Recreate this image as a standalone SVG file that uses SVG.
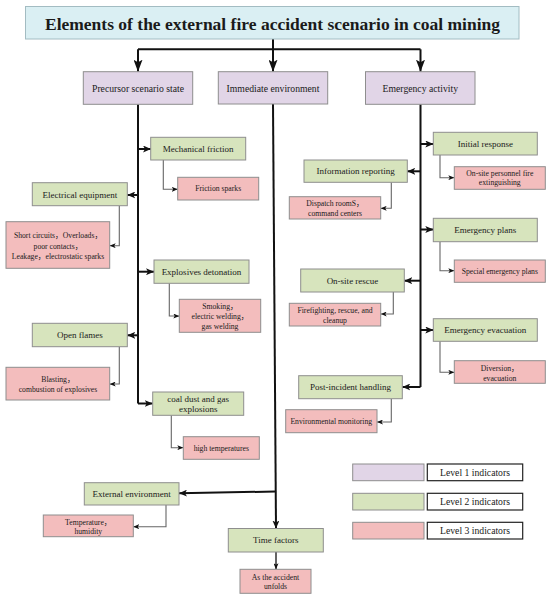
<svg xmlns="http://www.w3.org/2000/svg" width="550" height="599" viewBox="0 0 550 599">
<defs>
<style>
rect.l0{fill:#daeff3;stroke:#a3bcc2;stroke-width:1}
rect.l1{fill:#e1d5e7;stroke:#8e8e8e;stroke-width:1}
rect.l2{fill:#d7e4bd;stroke:#8e8e8e;stroke-width:1}
rect.l3{fill:#f3bdbd;stroke:#8e8e8e;stroke-width:1}
rect.lb{fill:#ffffff;stroke:#222222;stroke-width:1.2}
text{font-family:"Liberation Serif","Noto Sans CJK SC",serif;fill:#1a1a1a;text-anchor:middle}
.t0{font-size:17.5px;font-weight:bold}
.t1{font-size:9.7px}
.t2{font-size:9px}
.t3{font-size:7.7px}
.tl{font-size:9.7px}
.m{fill:none;stroke:#111111;stroke-width:2}
.mt{fill:none;stroke:#111111;stroke-width:1.3}
.s{fill:none;stroke:#666666;stroke-width:1.1}
</style>
<marker id="aL" markerUnits="userSpaceOnUse" viewBox="0 0 12 9" markerWidth="12" markerHeight="9" refX="12" refY="4.5" orient="auto"><path d="M0,0 L12,4.5 L0,9 L2.5,4.5 z" fill="#111111"/></marker>
<marker id="aM" markerUnits="userSpaceOnUse" viewBox="0 0 8 7" markerWidth="8" markerHeight="7" refX="8" refY="3.5" orient="auto"><path d="M0,0 L8,3.5 L0,7 L2,3.5 z" fill="#111111"/></marker>
<marker id="aS" markerUnits="userSpaceOnUse" viewBox="0 0 6 5" markerWidth="6" markerHeight="5" refX="6" refY="2.5" orient="auto"><path d="M0,0 L6,2.5 L0,5 L1.5,2.5 z" fill="#111111"/></marker>
</defs>
<rect x="0" y="0" width="550" height="599" fill="#ffffff"/>

<g id="connectors">
<path class="m" d="M273,38.5 V71.7" marker-end="url(#aL)"/>
<path class="m" d="M138,49.3 H420.5"/>
<path class="m" d="M138,49.3 V71.7" marker-end="url(#aL)"/>
<path class="m" d="M420.5,49.3 V71.7" marker-end="url(#aL)"/>
<path class="m" d="M138,104.3 V403.5"/>
<path class="m" d="M420.5,104.3 V387"/>
<path class="m" d="M273,104 L276,528.5" marker-end="url(#aM)"/>
<path class="m" d="M138,149 H151" marker-end="url(#aM)"/>
<path class="m" d="M138,195 H127.3" marker-end="url(#aM)"/>
<path class="m" d="M138,271.7 H154" marker-end="url(#aM)"/>
<path class="m" d="M138,335.3 H127.3" marker-end="url(#aM)"/>
<path class="m" d="M138,403.5 H152.7" marker-end="url(#aM)"/>
<path class="m" d="M420.5,144 H433.3" marker-end="url(#aM)"/>
<path class="m" d="M420.5,171.3 H407.3" marker-end="url(#aM)"/>
<path class="m" d="M420.5,229.5 H433.3" marker-end="url(#aM)"/>
<path class="m" d="M420.5,280.7 H404.3" marker-end="url(#aM)"/>
<path class="m" d="M420.5,330 H433.3" marker-end="url(#aM)"/>
<path class="m" d="M420.5,387 H402.3" marker-end="url(#aM)"/>
<path class="m" d="M275.5,491.5 L179,493.3" marker-end="url(#aM)"/>
<path class="mt" d="M276,552 V569.3" marker-end="url(#aS)"/>
<path class="s" d="M163.3,160 V189.3 H177.7" marker-end="url(#aS)"/>
<path class="s" d="M119.3,205.7 V245.7 H109.7" marker-end="url(#aS)"/>
<path class="s" d="M169.3,283.3 V316 H179.3" marker-end="url(#aS)"/>
<path class="s" d="M119.3,346.7 V384 H109.7" marker-end="url(#aS)"/>
<path class="s" d="M171.3,415.3 V447.7 H183.3" marker-end="url(#aS)"/>
<path class="s" d="M440,155 V177.7 H454.3" marker-end="url(#aS)"/>
<path class="s" d="M391.3,182.3 V208.3 H380.7" marker-end="url(#aS)"/>
<path class="s" d="M440,241.7 V270.7 H454.3" marker-end="url(#aS)"/>
<path class="s" d="M393.3,292 V314 H380.7" marker-end="url(#aS)"/>
<path class="s" d="M440,341.3 V372.3 H454.3" marker-end="url(#aS)"/>
<path class="s" d="M391.3,398.7 V422 H377" marker-end="url(#aS)"/>
<path class="s" d="M166,505 V526.7 H133.3" marker-end="url(#aS)"/>
</g>

<g id="title">
<rect class="l0" x="25.5" y="6.5" width="493.5" height="32.5"/>
<text class="t0" x="272.5" y="29.5">Elements of the external fire accident scenario in coal mining</text>
</g>

<g id="precursor">
<rect class="l1" x="83.3" y="71.7" width="109.4" height="32.6"/>
<text class="t1" x="138" y="91.6">Precursor scenario state</text>
</g>
<g id="immediate">
<rect class="l1" x="218.3" y="71.7" width="109.4" height="32.3"/>
<text class="t1" x="273" y="91.5">Immediate environment</text>
</g>
<g id="emergency">
<rect class="l1" x="365.5" y="71.7" width="109.5" height="32.6"/>
<text class="t1" x="420.3" y="91.6">Emergency activity</text>
</g>

<g id="mechanical-friction">
<rect class="l2" x="150.7" y="137.3" width="95" height="22.7"/>
<text class="t2" x="198.2" y="152">Mechanical friction</text>
</g>
<g id="friction-sparks">
<rect class="l3" x="177.7" y="177.3" width="81" height="22.7"/>
<text class="t3" x="218.2" y="191.3">Friction sparks</text>
</g>
<g id="electrical-equipment">
<rect class="l2" x="32.3" y="182.7" width="95" height="23"/>
<text class="t2" x="79.8" y="197.5">Electrical equipment</text>
</g>
<g id="short-circuits">
<rect class="l3" x="6" y="221.7" width="103.7" height="46.6"/>
<text class="t3" x="58" y="238.3">Short circuits，Overloads，</text>
<text class="t3" x="58" y="248.5">poor contacts，</text>
<text class="t3" x="58" y="258.7">Leakage，electrostatic sparks</text>
</g>
<g id="explosives-detonation">
<rect class="l2" x="154" y="260" width="95" height="23.3"/>
<text class="t2" x="201.5" y="274.7">Explosives detonation</text>
</g>
<g id="smoking">
<rect class="l3" x="179.3" y="299.3" width="81.4" height="33"/>
<text class="t3" x="220" y="309.3">Smoking，</text>
<text class="t3" x="220" y="319.3">electric welding，</text>
<text class="t3" x="220" y="329.3">gas welding</text>
</g>
<g id="open-flames">
<rect class="l2" x="32.3" y="323.3" width="95" height="23.4"/>
<text class="t2" x="79.8" y="338.3">Open flames</text>
</g>
<g id="blasting">
<rect class="l3" x="6" y="367.3" width="103.7" height="32.7"/>
<text class="t3" x="58" y="381.8">Blasting，</text>
<text class="t3" x="58" y="391.8">combustion of explosives</text>
</g>
<g id="coal-dust">
<rect class="l2" x="152.7" y="392" width="91" height="23.3"/>
<text class="t2" x="198.2" y="402.3">coal dust and gas</text>
<text class="t2" x="198.2" y="412.3">explosions</text>
</g>
<g id="high-temperatures">
<rect class="l3" x="183.3" y="436.7" width="76" height="22.6"/>
<text class="t3" x="221.3" y="450.7">high temperatures</text>
</g>

<g id="initial-response">
<rect class="l2" x="433.3" y="132.3" width="104" height="22.7"/>
<text class="t2" x="485.3" y="147">Initial response</text>
</g>
<g id="on-site-personnel">
<rect class="l3" x="454.3" y="166.7" width="91" height="22.6"/>
<text class="t3" x="499.8" y="175.9">On-site personnel fire</text>
<text class="t3" x="499.8" y="185.3">extinguishing</text>
</g>
<g id="information-reporting">
<rect class="l2" x="304" y="160" width="103.3" height="22.3"/>
<text class="t2" x="355.6" y="174.3">Information reporting</text>
</g>
<g id="dispatch">
<rect class="l3" x="289.3" y="196.7" width="91.4" height="22.3"/>
<text class="t3" x="335" y="205.9">Dispatch roomS，</text>
<text class="t3" x="335" y="215.9">command centers</text>
</g>
<g id="emergency-plans">
<rect class="l2" x="433.3" y="218.3" width="104" height="23.4"/>
<text class="t2" x="485.3" y="232.6">Emergency plans</text>
</g>
<g id="special-plans">
<rect class="l3" x="454.3" y="260" width="91" height="22.3"/>
<text class="t3" x="499.8" y="273.8">Special emergency plans</text>
</g>
<g id="on-site-rescue">
<rect class="l2" x="300.7" y="269" width="103.6" height="23"/>
<text class="t2" x="352.5" y="283.6">On-site rescue</text>
</g>
<g id="firefighting">
<rect class="l3" x="289.3" y="303.3" width="91.4" height="22.7"/>
<text class="t3" x="335" y="313.3">Firefighting, rescue, and</text>
<text class="t3" x="335" y="322.6">cleanup</text>
</g>
<g id="emergency-evacuation">
<rect class="l2" x="433.3" y="318.7" width="104" height="22.6"/>
<text class="t2" x="485.3" y="333">Emergency evacuation</text>
</g>
<g id="diversion">
<rect class="l3" x="454.3" y="360.7" width="91" height="22.6"/>
<text class="t3" x="499.8" y="370.9">Diversion，</text>
<text class="t3" x="499.8" y="380.6">evacuation</text>
</g>
<g id="post-incident">
<rect class="l2" x="298.7" y="375.7" width="103.6" height="23"/>
<text class="t2" x="350.5" y="390.2">Post-incident handling</text>
</g>
<g id="environmental-monitoring">
<rect class="l3" x="285.7" y="409.7" width="91.3" height="23"/>
<text class="t3" x="331.3" y="423.8">Environmental monitoring</text>
</g>

<g id="external-environment">
<rect class="l2" x="84.3" y="482.7" width="94.7" height="22.3"/>
<text class="t2" x="131.6" y="497">External environment</text>
</g>
<g id="temperature">
<rect class="l3" x="43.3" y="515" width="90" height="21.7"/>
<text class="t3" x="88.3" y="524.8">Temperature，</text>
<text class="t3" x="88.3" y="534.2">humidity</text>
</g>
<g id="time-factors">
<rect class="l2" x="228.3" y="528.5" width="95" height="23.5"/>
<text class="t2" x="275.8" y="543.2">Time factors</text>
</g>
<g id="as-accident">
<rect class="l3" x="240" y="569.3" width="71" height="24"/>
<text class="t3" x="275.5" y="579.6">As the accident</text>
<text class="t3" x="275.5" y="589.3">unfolds</text>
</g>

<g id="legend">
<rect class="l1" x="352.7" y="464" width="71.3" height="16.7"/>
<rect class="lb" x="427.3" y="464" width="95.4" height="16.7"/>
<text class="tl" x="475" y="475.6">Level 1 indicators</text>
<rect class="l2" x="352.7" y="493.3" width="71.3" height="16.7"/>
<rect class="lb" x="427.3" y="493.3" width="95.4" height="16.7"/>
<text class="tl" x="475" y="504.9">Level 2 indicators</text>
<rect class="l3" x="352.7" y="522.3" width="71.3" height="16.7"/>
<rect class="lb" x="427.3" y="522.3" width="95.4" height="16.7"/>
<text class="tl" x="475" y="533.9">Level 3 indicators</text>
</g>
</svg>
